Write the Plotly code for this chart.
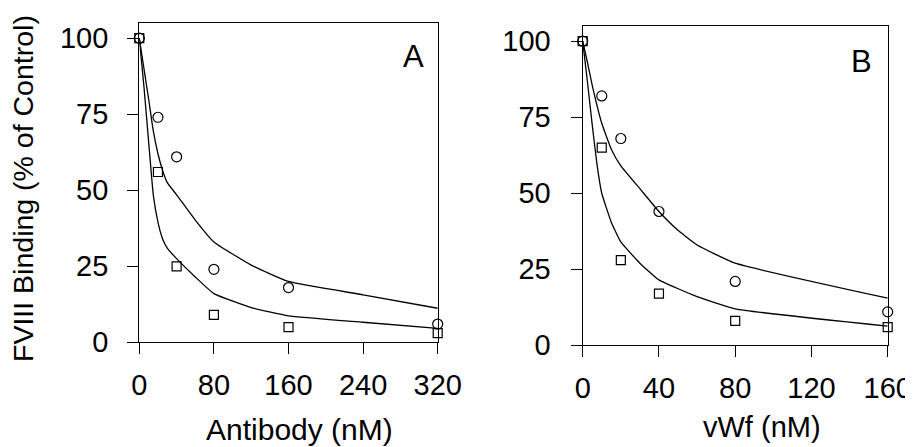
import plotly.graph_objects as go

# ---- Data ----
# Panel A: Antibody (nM)
a_x = [0, 20, 40, 80, 160, 320]
a_circles = [100, 74, 61, 24, 18, 6]
a_squares = [100, 56, 25, 9, 5, 3]
a_fit_upper_x = [0, 5, 10, 15, 20, 25, 30, 40, 60, 80, 120, 160, 240, 320]
a_fit_upper_y = [100, 90, 80, 69.5, 62, 56.5, 52.5, 48.5, 40.2, 33, 25.4, 20, 15.6, 11.2]
a_fit_lower_x = [0, 5, 10, 15, 20, 25, 30, 40, 60, 80, 120, 160, 240, 320]
a_fit_lower_y = [100, 84, 66, 48.5, 39.5, 34, 31, 27.5, 21.5, 16, 11.4, 8.7, 6.6, 4.6]

# Panel B: vWf (nM)
b_x = [0, 10, 20, 40, 80, 160]
b_circles = [100, 82, 68, 44, 21, 11]
b_squares = [100, 65, 28, 17, 8, 6]
b_fit_upper_x = [0, 2.5, 5, 10, 15, 20, 30, 40, 50, 60, 80, 160]
b_fit_upper_y = [100, 93, 85.5, 73, 64.5, 59, 51.5, 44, 37.8, 33, 27, 15.5]
b_fit_lower_x = [0, 2.5, 5, 7.5, 10, 15, 20, 30, 40, 60, 80, 160]
b_fit_lower_y = [100, 86.5, 72.5, 59.5, 50, 40.5, 34, 27, 21.5, 16, 12, 6.3]

a_xticks = [0, 80, 160, 240, 320]
b_xticks = [0, 40, 80, 120, 160]
y_ticks = [0, 25, 50, 75, 100]

W, H = 913, 447
OFF = 8  # page body margin


def fx(px):
    return (px - OFF) / W


def fy(py):
    return 1 - (py - OFF) / H


FONT = "Liberation Sans, Arial, sans-serif"
line_style = dict(color="black", width=1.3, shape="spline", smoothing=0.4)
circle_marker = dict(symbol="circle-open", size=10, color="black", line=dict(width=1.2))
square_marker = dict(symbol="square-open", size=9, color="black", line=dict(width=1.2))

fig = go.Figure()

# Panel A
fig.add_trace(go.Scatter(x=a_fit_upper_x, y=a_fit_upper_y, mode="lines", line=line_style,
                         xaxis="x", yaxis="y", showlegend=False, hoverinfo="skip"))
fig.add_trace(go.Scatter(x=a_fit_lower_x, y=a_fit_lower_y, mode="lines", line=line_style,
                         xaxis="x", yaxis="y", showlegend=False, hoverinfo="skip"))
fig.add_trace(go.Scatter(x=a_x, y=a_circles, mode="markers", marker=circle_marker,
                         xaxis="x", yaxis="y", showlegend=False, cliponaxis=False))
fig.add_trace(go.Scatter(x=a_x, y=a_squares, mode="markers", marker=square_marker,
                         xaxis="x", yaxis="y", showlegend=False, cliponaxis=False))

# Panel B
fig.add_trace(go.Scatter(x=b_fit_upper_x, y=b_fit_upper_y, mode="lines", line=line_style,
                         xaxis="x2", yaxis="y2", showlegend=False, hoverinfo="skip"))
fig.add_trace(go.Scatter(x=b_fit_lower_x, y=b_fit_lower_y, mode="lines", line=line_style,
                         xaxis="x2", yaxis="y2", showlegend=False, hoverinfo="skip"))
fig.add_trace(go.Scatter(x=b_x, y=b_squares, mode="markers", marker=square_marker,
                         xaxis="x2", yaxis="y2", showlegend=False, cliponaxis=False))
fig.add_trace(go.Scatter(x=b_x, y=b_circles, mode="markers", marker=circle_marker,
                         xaxis="x2", yaxis="y2", showlegend=False, cliponaxis=False))

axis_common = dict(showline=True, linecolor="black", linewidth=1.3, mirror=True,
                   ticks="outside", ticklen=11, tickwidth=1.3, tickcolor="black",
                   showgrid=False, zeroline=False, fixedrange=True, automargin=False,
                   tickfont=dict(family=FONT, size=29, color="black"))

fig.update_layout(
    width=W, height=H,
    autosize=False,
    margin=dict(l=0, r=0, t=0, b=0, pad=0, autoexpand=False),
    paper_bgcolor="white", plot_bgcolor="white",
    xaxis=dict(domain=[fx(139.3), fx(437.7)], range=[0, 320], tickmode="array", tickvals=a_xticks,
               anchor="y", ticklabelstandoff=6, **axis_common),
    yaxis=dict(domain=[fy(342.3), fy(23)], range=[0, 105], tickmode="array", tickvals=y_ticks,
               anchor="x", ticklabelstandoff=13, **axis_common),
    xaxis2=dict(domain=[fx(582.7), fx(887.7)], range=[0, 160], tickmode="array", tickvals=b_xticks,
                anchor="y2", ticklabelstandoff=6, **axis_common),
    yaxis2=dict(domain=[fy(345.3), fy(26)], range=[0, 105], tickmode="array", tickvals=y_ticks,
                anchor="x2", ticklabelstandoff=14, **axis_common),
    annotations=[
        dict(text="FVIII Binding (% of Control)", textangle=-90, x=fx(23), y=fy(189),
             xref="paper", yref="paper", xanchor="center", yanchor="middle", showarrow=False,
             font=dict(family=FONT, size=28.5, color="black")),
        dict(text="Antibody (nM)", x=fx(299), y=fy(429), xref="paper", yref="paper",
             xanchor="center", yanchor="middle", showarrow=False,
             font=dict(family=FONT, size=30, color="black")),
        dict(text="vWf (nM)", x=fx(762), y=fy(427), xref="paper", yref="paper",
             xanchor="center", yanchor="middle", showarrow=False,
             font=dict(family=FONT, size=29, color="black")),
        dict(text="A", x=fx(413), y=fy(57), xref="paper", yref="paper",
             xanchor="center", yanchor="middle", showarrow=False,
             font=dict(family=FONT, size=31, color="black")),
        dict(text="B", x=fx(861), y=fy(61), xref="paper", yref="paper",
             xanchor="center", yanchor="middle", showarrow=False,
             font=dict(family=FONT, size=31, color="black")),
    ],
)

fig.write_html("out.html")
